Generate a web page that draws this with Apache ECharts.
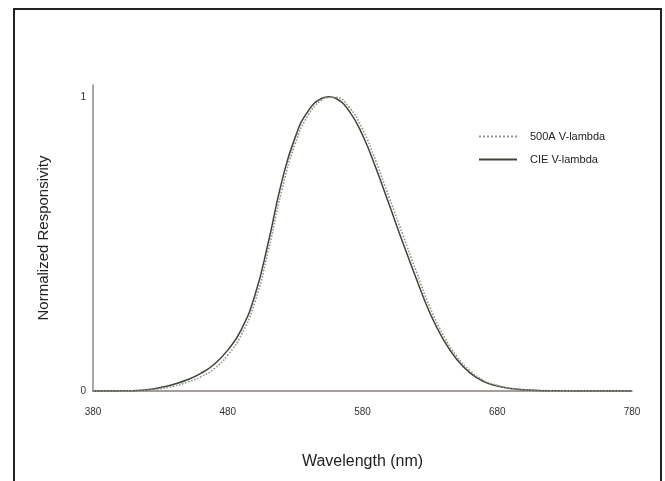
<!DOCTYPE html>
<html>
<head>
<meta charset="utf-8">
<script src="https://cdn.jsdelivr.net/npm/echarts@6/dist/echarts.min.js"></script>
<style>
html,body{margin:0;padding:0;background:#fff;overflow:hidden;}
#frame{position:absolute;left:13px;top:8px;width:649px;height:500px;border:2px solid #222;box-sizing:border-box;}
#chart{position:absolute;left:0;top:0;width:665px;height:481px;}
</style>
</head>
<body>
<div id="frame"></div>
<div id="chart"></div>
<script>
const wavelengths = [380,390,400,410,420,430,440,450,460,470,480,490,500,510,520,530,540,550,555,560,570,580,590,600,610,620,630,640,650,660,670,680,690,700,710,720,730,740,750,760,770,780];
const cieVLambda = [0.00004,0.00012,0.0004,0.0012,0.004,0.0116,0.023,0.038,0.06,0.091,0.139,0.208,0.323,0.503,0.71,0.862,0.954,0.995,1.0,0.995,0.952,0.87,0.757,0.631,0.503,0.381,0.265,0.175,0.107,0.061,0.032,0.017,0.0082,0.0041,0.0021,0.001,0.0005,0.00025,0.00012,0.00006,0.00003,0.000015];
const v500A = [0,0,0.0003,0.001,0.003,0.008,0.017,0.03,0.048,0.076,0.122,0.19,0.3,0.475,0.68,0.84,0.94,0.99,0.997,0.998,0.965,0.89,0.78,0.655,0.53,0.405,0.285,0.19,0.118,0.068,0.036,0.019,0.009,0.0045,0.002,0.001,0.0005,0.0002,0.0001,0,0,0];
const xTicks = [380,480,580,680,780];
const yTicks = [0,1];
const seriesNames = ['500A V-lambda','CIE V-lambda'];

const chart = echarts.init(document.getElementById('chart'));
const pairs = arr => wavelengths.map((w,i)=>[w,arr[i]]);
chart.setOption({
  animation:false,
  backgroundColor:'transparent',
  grid:{left:93,right:33,top:85,bottom:90,containLabel:false},
  legend:{
    orient:'vertical',left:473,top:126,itemWidth:38,itemHeight:12,itemGap:12,
    itemStyle:{opacity:0,borderWidth:0},
    textStyle:{fontFamily:'Liberation Sans, Arial, sans-serif',fontSize:11,color:'#222',padding:[0,0,0,8]},
    data:seriesNames
  },
  xAxis:{
    type:'value',min:380,max:780,interval:100,
    name:'Wavelength (nm)',nameLocation:'middle',nameGap:63,
    nameTextStyle:{fontFamily:'Liberation Sans, Arial, sans-serif',fontSize:16,color:'#222'},
    axisLine:{lineStyle:{color:'#8a7c7c',width:1.5}},
    axisTick:{show:false},splitLine:{show:false},
    axisLabel:{margin:16,fontFamily:'Liberation Sans, Arial, sans-serif',fontSize:10,color:'#333',
      formatter:v=>xTicks.includes(v)?String(v):''}
  },
  yAxis:{
    type:'value',min:0,max:1.04,interval:1,
    name:'Normalized Responsivity',nameLocation:'middle',nameGap:42,nameRotate:90,
    nameTextStyle:{fontFamily:'Liberation Sans, Arial, sans-serif',fontSize:15,color:'#222'},
    axisLine:{show:true,lineStyle:{color:'#8a8a8a',width:1.5}},
    axisTick:{show:false},splitLine:{show:false},
    axisLabel:{margin:7,fontFamily:'Liberation Sans, Arial, sans-serif',fontSize:10,color:'#333',
      formatter:v=>yTicks.includes(v)?String(v):''}
  },
  series:[
    {name:seriesNames[0],type:'line',smooth:true,symbol:'none',data:pairs(v500A),
     lineStyle:{color:'#8d9686',width:1.6,type:'dotted'},itemStyle:{color:'#8d9686'},z:3},
    {name:seriesNames[1],type:'line',smooth:true,symbol:'none',data:pairs(cieVLambda),
     lineStyle:{color:'#3c4438',width:1.5},itemStyle:{color:'#3c4438'},z:2}
  ]
});
</script>
</body>
</html>
